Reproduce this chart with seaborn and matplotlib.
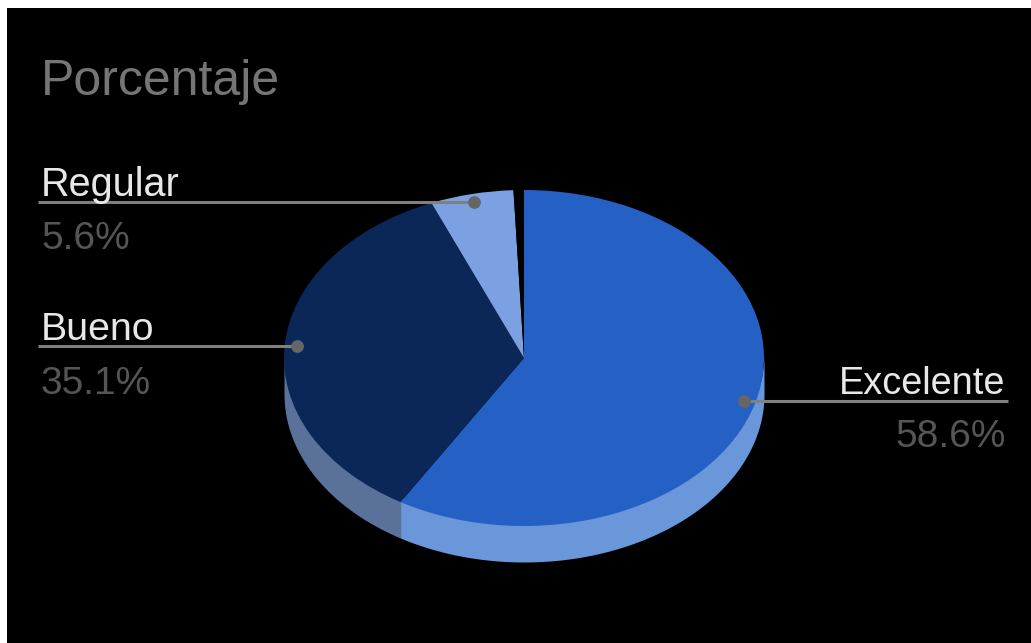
import numpy as np
import matplotlib
matplotlib.use("Agg")
import matplotlib.pyplot as plt
import seaborn as sns

title = "Porcentaje"
categories = ["Excelente", "Bueno", "Regular", ""]
values = [58.6, 35.1, 5.6, 0.7]
value_labels = ["58.6%", "35.1%", "5.6%", ""]
top_colors = ["#2561C4", "#0B2757", "#7BA1E3", "#000000"]
side_colors = ["#6A96DA", "#5A7199", "#7BA1E3", "#000000"]

W, H = 1031, 643
sns.set_theme(style="dark", rc={"font.family": ["Liberation Sans", "DejaVu Sans"]})
fig = plt.figure(figsize=(W / 100, H / 100), dpi=100, facecolor="white")
L, T = 7, 8
ax = fig.add_axes([L / W, 0, (W - L) / W, (H - T) / H])

CX, CY, RX, RY, DEPTH = 524, 358, 240, 168, 36


def to_x(px):
    return (px - CX) / RX


def to_y(py):
    return (CY - py) / RY


palette = sns.color_palette(top_colors)
wedges, _ = ax.pie(values, colors=palette, startangle=90, counterclock=False, radius=1,
                   wedgeprops={"linewidth": 0, "zorder": 3})
ax.set_aspect("auto")
ax.set_frame_on(True)
ax.set_facecolor("black")
for s in ax.spines.values():
    s.set_visible(False)
ax.set_xlim(to_x(L), to_x(W))
ax.set_ylim(to_y(H), to_y(T))
ax.set_xticks([])
ax.set_yticks([])
ax.grid(False)

# side wall of the tilted pie, running slightly under the top face
edges = np.concatenate([[0], np.cumsum(values)]) / sum(values) * 2 * np.pi
d = DEPTH / RY
for a0, a1, col in zip(edges[:-1], edges[1:], side_colors):
    lo, hi = max(a0, np.pi / 2), min(a1, 3 * np.pi / 2)
    if hi <= lo:
        continue
    th = np.linspace(lo, hi, 200)
    ax.fill_between(np.sin(th), np.cos(th) + 0.03, np.cos(th) - d, color=col, linewidth=0, zorder=2)

# leader lines, dots and labels
LINE, DOT = "#808080", "#666666"
mids = (edges[:-1] + edges[1:]) / 2
label_pos = {
    "Excelente": (1005, 1008, 394, 447, "right", 27.3),
    "Bueno": (41, 38, 340, 394, "left", 28.3),
    "Regular": (41, 38, 196, 249, "left", 28.5),
}
for cat, lab, m in zip(categories, value_labels, mids):
    if cat not in label_pos:
        continue
    tx, ex, by, vy, ha, fs = label_pos[cat]
    x, y = 0.95 * np.sin(m), 0.95 * np.cos(m)
    ax.plot([x, to_x(ex)], [y, y], color=LINE, lw=2.2, zorder=5, solid_capstyle="butt")
    ax.plot([x], [y], "o", ms=9.2, color=DOT, mew=0, zorder=6)
    ax.text(to_x(tx), to_y(by), cat, color="#E8E8E8", fontsize=fs, ha=ha, va="baseline", zorder=7)
    ax.text(to_x(tx + (1 if ha == "right" else 0)), to_y(vy), lab, color="#555555", fontsize=28,
            ha=ha, va="baseline", zorder=7)

ax.text(to_x(41), to_y(95), title, color="#757575", fontsize=36, ha="left", va="baseline")

fig.savefig("out.png", dpi=100, facecolor="white")
